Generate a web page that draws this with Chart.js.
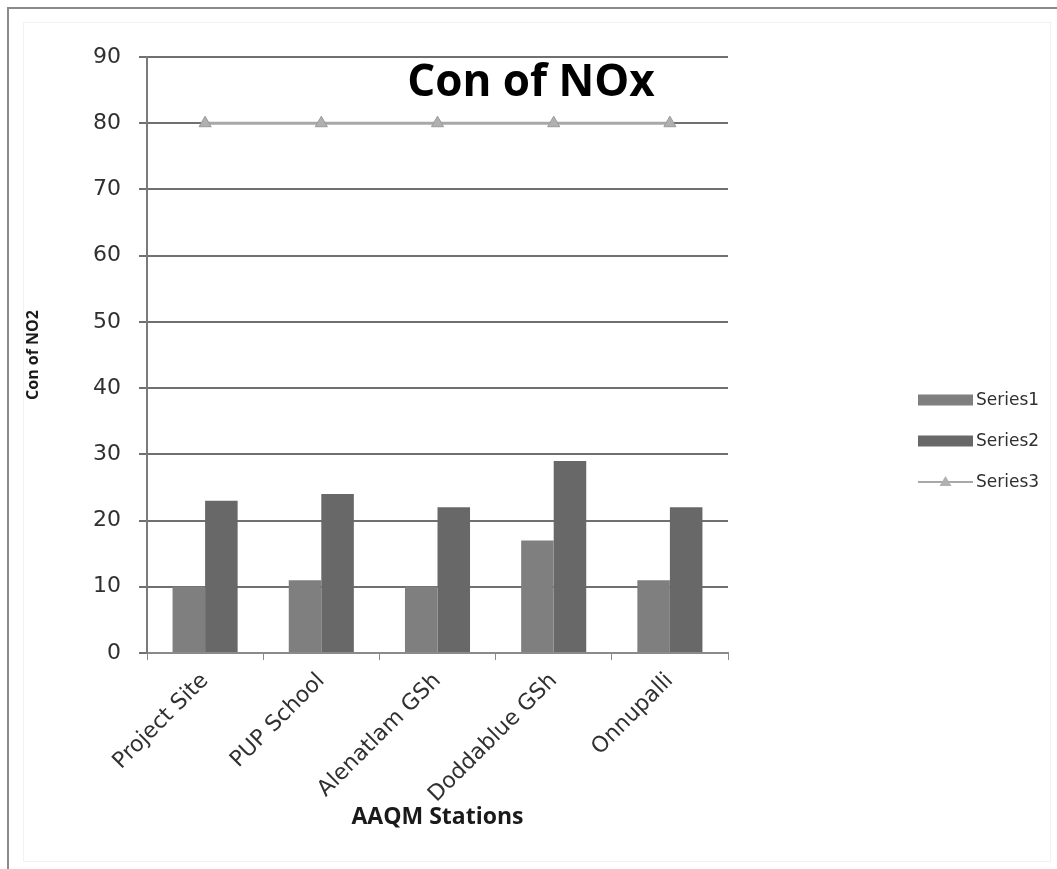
<!DOCTYPE html>
<html>
<head>
<meta charset="utf-8">
<title>Con of NOx</title>
<script src="https://cdn.jsdelivr.net/npm/chart.js@4/dist/chart.umd.min.js"></script>
<style>
  html, body { margin: 0; padding: 0; background: #ffffff; }
  #wrap { width: 1057px; height: 869px; position: relative; }
</style>
</head>
<body>
<div id="wrap"><canvas id="chart" width="1057" height="869"></canvas></div>
<script>
// AAQM stations and measured NOx concentrations
const stations = ['Project Site', 'PUP School', 'Alenatlam GSh', 'Doddablue GSh', 'Onnupalli'];
const series1 = [10, 11, 10, 17, 11];
const series2 = [23, 24, 22, 29, 22];
const series3 = [80, 80, 80, 80, 80];
const seriesNames = ['Series1', 'Series2', 'Series3'];
const yTicks = [0, 10, 20, 30, 40, 50, 60, 70, 80, 90];

const chartTitle = 'Con of NOx';
const xTitle = 'AAQM Stations';
const yTitle = 'Con of NO2';

const FONT = "'DejaVu Sans', 'Open Sans', sans-serif";
const BOLD_FONT = "'Open Sans', 'DejaVu Sans', sans-serif";
const colS1 = '#7f7f7f';
const colS2 = '#686868';
const colS3 = '#a8a8a8';
const gridCol = '#707070';
const textCol = '#303030';

// Outer frame of the picture
const framePlugin = {
  id: 'frame',
  beforeDraw(chart) {
    const ctx = chart.ctx;
    ctx.save();
    ctx.fillStyle = '#ffffff';
    ctx.fillRect(0, 0, chart.width, chart.height);
    ctx.strokeStyle = '#8a8a8a';
    ctx.lineWidth = 2;
    ctx.beginPath();
    ctx.moveTo(8, chart.height);
    ctx.lineTo(8, 8);
    ctx.lineTo(chart.width, 8);
    ctx.stroke();
    ctx.strokeStyle = '#f2f2f2';
    ctx.lineWidth = 1;
    ctx.strokeRect(23.5, 22.5, chart.width - 30, chart.height - 30);
    ctx.restore();
  }
};

// Chart title drawn over the top of the plot area, and the side legend
const overlayPlugin = {
  id: 'overlay',
  afterDraw(chart) {
    const ctx = chart.ctx;
    ctx.save();
    ctx.fillStyle = '#000000';
    ctx.font = "bold 44px " + BOLD_FONT;
    ctx.textAlign = 'center';
    ctx.textBaseline = 'middle';
    ctx.fillText(chartTitle, 531, 83);

    // legend
    const lx = 918, boxW = 55, boxH = 11;
    const rowY = [400, 441, 482];
    ctx.font = "17px " + FONT;
    ctx.textAlign = 'left';
    chart.data.datasets.forEach((ds, i) => {
      const y = rowY[i];
      if (ds.type === 'line') {
        ctx.strokeStyle = ds.borderColor;
        ctx.lineWidth = 2;
        ctx.beginPath();
        ctx.moveTo(lx, y);
        ctx.lineTo(lx + boxW, y);
        ctx.stroke();
        ctx.fillStyle = ds.pointBackgroundColor;
        ctx.beginPath();
        const cx = lx + boxW / 2;
        ctx.moveTo(cx, y - 6);
        ctx.lineTo(cx + 6, y + 4);
        ctx.lineTo(cx - 6, y + 4);
        ctx.closePath();
        ctx.fill();
      } else {
        ctx.fillStyle = ds.backgroundColor;
        ctx.fillRect(lx, y - boxH / 2, boxW, boxH);
      }
      ctx.fillStyle = textCol;
      ctx.fillText(ds.label, lx + boxW + 3, y + 1);
    });
    ctx.restore();
  }
};

new Chart(document.getElementById('chart'), {
  data: {
    labels: stations,
    datasets: [
      { type: 'bar', label: seriesNames[0], data: series1, backgroundColor: colS1,
        categoryPercentage: 0.56, barPercentage: 1.0, order: 2 },
      { type: 'bar', label: seriesNames[1], data: series2, backgroundColor: colS2,
        categoryPercentage: 0.56, barPercentage: 1.0, order: 2 },
      { type: 'line', label: seriesNames[2], data: series3, borderColor: colS3,
        borderWidth: 3, pointStyle: 'triangle', pointRadius: 7,
        pointBackgroundColor: '#b0b0b0', pointBorderColor: '#9a9a9a', pointBorderWidth: 1,
        fill: false, tension: 0, order: 1 }
    ]
  },
  options: {
    responsive: false,
    animation: false,
    layout: { padding: { left: 20, right: 329, top: 57, bottom: 30 } },
    plugins: {
      legend: { display: false },
      title: { display: false },
      tooltip: { enabled: false }
    },
    scales: {
      x: {
        offset: true,
        grid: { display: true, drawOnChartArea: false, drawTicks: true, tickLength: 7,
                offset: true, color: '#8a8a8a', lineWidth: 1 },
        border: { display: true, color: '#8a8a8a', width: 2 },
        ticks: { color: textCol, font: { family: FONT, size: 22 }, minRotation: 45, maxRotation: 45, padding: 8 },
        title: { display: true, text: xTitle, color: '#1a1a1a',
                 font: { family: BOLD_FONT, size: 23, weight: 'bold' }, padding: { top: 4, bottom: 8 } },
        afterFit(scale) { scale.height = 869 - 30 - 653; }
      },
      y: {
        min: 0, max: 90,
        afterBuildTicks(scale) { scale.ticks = yTicks.map(v => ({ value: v })); },
        grid: { color: gridCol, lineWidth: 2, tickLength: 8 },
        border: { display: true, color: '#7a7a7a', width: 2 },
        ticks: { color: textCol, font: { family: FONT, size: 22 }, padding: 18 },
        title: { display: true, text: yTitle, color: '#1a1a1a',
                 font: { family: BOLD_FONT, size: 16, weight: 'bold' }, padding: { top: 4, bottom: 4 } },
        afterFit(scale) { scale.width = 147 - 20; }
      }
    }
  },
  plugins: [framePlugin, overlayPlugin]
});
</script>
</body>
</html>
